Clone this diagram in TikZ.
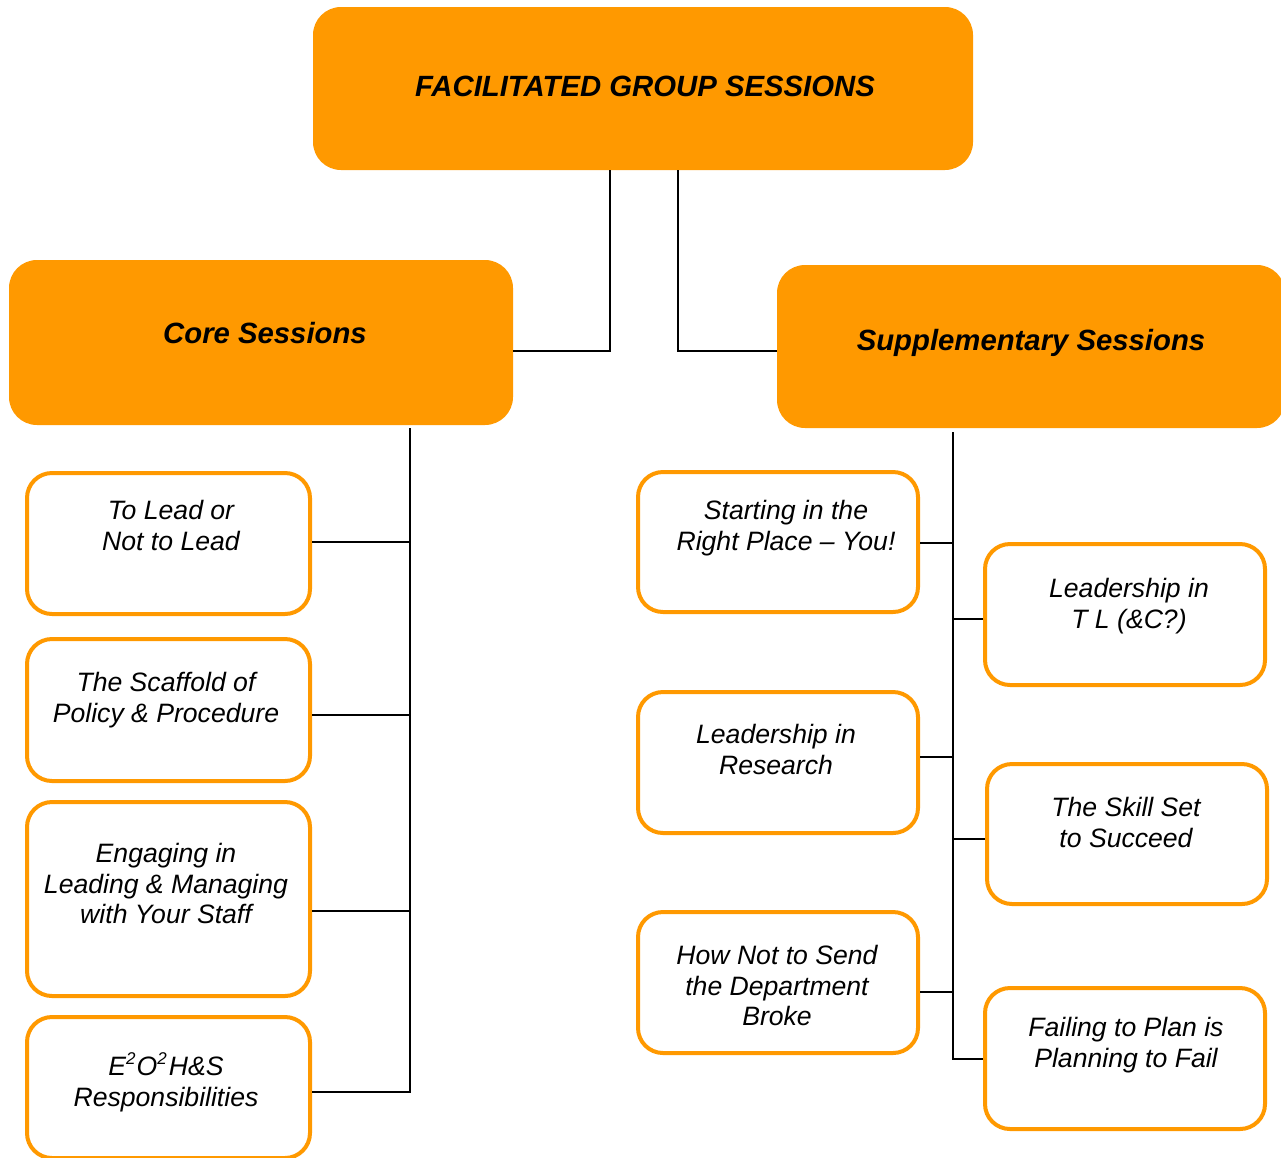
\documentclass[tikz,border=0pt]{standalone}
\usepackage{fontspec}
\setmainfont{Liberation Sans}
\usetikzlibrary{calc}
\definecolor{orng}{HTML}{FF9900}
\newcommand{\supsq}{\smash{\raisebox{0.42em}{\fontsize{17}{17}\selectfont 2}}}
\begin{document}
\begin{tikzpicture}[x=1pt,y=-1pt,
  head/.style={fill=orng, draw=none, rounded corners=28pt, inner sep=0pt},
  sub/.style={fill=white, draw=orng, line width=4pt, rounded corners=25pt, inner sep=0pt},
  txt/.style={anchor=north, inner sep=0pt, align=center, font=\fontsize{26.6}{30.7}\selectfont\itshape},
  htxt/.style={anchor=north, inner sep=0pt, font=\fontsize{29.3}{34}\selectfont\bfseries\itshape},
  link/.style={draw=black, line width=2.2pt}]
\useasboundingbox[fill=white] (0,0) rectangle (1281,1157);

% header boxes
\node[head, minimum width=660pt, minimum height=163pt] (title) at (643,88.5) {};
\node[head, minimum width=504pt, minimum height=165pt] (core) at (261,342.5) {};
\node[head, minimum width=508pt, minimum height=163pt] (supp) at (1031,346.5) {};
\node[htxt] (titletxt) at (645,76) {FACILITATED GROUP SESSIONS};
\node[htxt] (coretxt) at (265,322) {Core Sessions};
\node[htxt] (supptxt) at (1031,329) {Supplementary Sessions};

% core session boxes
\node[sub, minimum width=283pt, minimum height=141pt] (b1) at (168.5,543.5) {};
\node[sub, minimum width=283pt, minimum height=142pt] (b2) at (168.5,710) {};
\node[sub, minimum width=283pt, minimum height=194pt] (b3) at (168.5,899) {};
\node[sub, minimum width=283pt, minimum height=141pt] (b4) at (168.5,1087.5) {};
\node[txt] (t1) at (171,500) {To Lead or\\Not to Lead};
\node[txt] (t2) at (166,672) {The Scaffold of\\Policy \& Procedure};
\node[txt] (t3) at (166,843) {Engaging in\\Leading \& Managing\\with Your Staff};
\node[txt] (t4) at (166,1057) {E\supsq\hspace{1pt}O\supsq\hspace{2pt}H\&S\\Responsibilities};

% supplementary session boxes
\node[sub, minimum width=280pt, minimum height=140pt] (r1) at (778,542) {};
\node[sub, minimum width=280pt, minimum height=141pt] (r2) at (1125,614.5) {};
\node[sub, minimum width=280pt, minimum height=141pt] (r3) at (778,762.5) {};
\node[sub, minimum width=280pt, minimum height=140pt] (r4) at (1127,834) {};
\node[sub, minimum width=280pt, minimum height=141pt] (r5) at (778,982.5) {};
\node[sub, minimum width=280pt, minimum height=141pt] (r6) at (1125,1058.5) {};
\node[txt] (s1) at (786,500) {Starting in the\\Right Place -- You!};
\node[txt] (s2) at (1129,578) {Leadership in\\T L (\&C?)};
\node[txt] (s3) at (776,724) {Leadership in\\Research};
\node[txt] (s4) at (1126,797) {The Skill Set\\to Succeed};
\node[txt] (s5) at (777,945) {How Not to Send\\the Department\\Broke};
\node[txt] (s6) at (1126,1017) {Failing to Plan is\\Planning to Fail};

% junction coordinates
\coordinate (j1) at (610,351);
\coordinate (j2) at (678,351);
\coordinate (cv1) at (410,542);
\coordinate (cv2) at (410,715);
\coordinate (cv3) at (410,911);
\coordinate (cv4) at (410,1092);
\coordinate (sv1) at (953,543);
\coordinate (sv2) at (953,619);
\coordinate (sv3) at (953,757);
\coordinate (sv4) at (953,839);
\coordinate (sv5) at (953,992);
\coordinate (sv6) at (953,1059);

% connectors
\draw[link] (title.south -| j1) -- (j1) -- (core.east |- j1);
\draw[link] (title.south -| j2) -- (j2) -- (supp.west |- j2);

\draw[link] ($(core.south -| cv4)+(0,3)$) -- (cv4) -- (b4.east |- cv4);
\draw[link] (b1.east |- cv1) -- (cv1);
\draw[link] (b2.east |- cv2) -- (cv2);
\draw[link] (b3.east |- cv3) -- (cv3);

\draw[link] ($(supp.south -| sv6)+(0,4)$) -- (sv6) -- (r6.west |- sv6);
\draw[link] (r1.east |- sv1) -- (sv1);
\draw[link] (r2.west |- sv2) -- (sv2);
\draw[link] (r3.east |- sv3) -- (sv3);
\draw[link] (r4.west |- sv4) -- (sv4);
\draw[link] (r5.east |- sv5) -- (sv5);
\end{tikzpicture}
\end{document}
